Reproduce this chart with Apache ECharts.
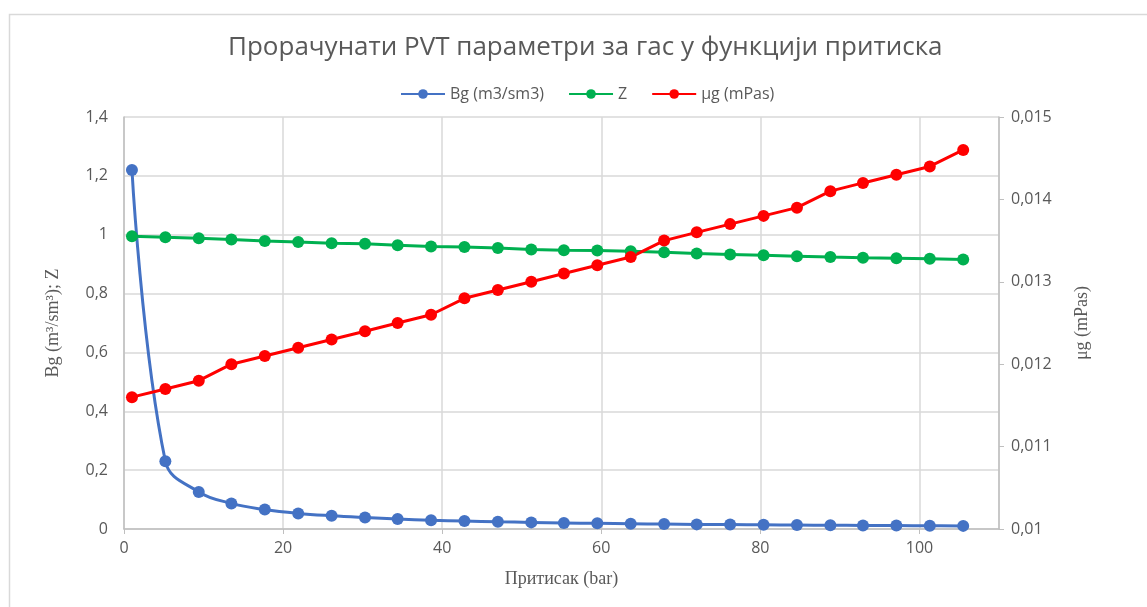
<!DOCTYPE html>
<html>
<head>
<meta charset="utf-8">
<script src="https://cdn.jsdelivr.net/npm/echarts@6/dist/echarts.min.js"></script>
<style>html,body{margin:0;padding:0;background:#fff}#c{width:1147px;height:607px}</style>
</head>
<body>
<div id="c"></div>
<script>
const pressure = [1.0, 5.2, 9.4, 13.5, 17.7, 21.9, 26.1, 30.3, 34.4, 38.6, 42.8, 47.0, 51.2, 55.3, 59.5, 63.7, 67.9, 72.0, 76.2, 80.4, 84.6, 88.8, 92.9, 97.1, 101.3, 105.5];
const bg = [1.22, 0.23, 0.126, 0.087, 0.066, 0.053, 0.045, 0.039, 0.034, 0.030, 0.027, 0.0245, 0.0225, 0.0207, 0.0192, 0.0179, 0.0168, 0.0157, 0.0149, 0.0141, 0.0133, 0.0127, 0.0121, 0.0116, 0.0111, 0.0106];
const z = [0.995, 0.991, 0.988, 0.984, 0.979, 0.975, 0.971, 0.969, 0.964, 0.960, 0.958, 0.955, 0.950, 0.947, 0.946, 0.944, 0.940, 0.936, 0.933, 0.930, 0.927, 0.924, 0.922, 0.920, 0.918, 0.916];
const mu = [0.01160, 0.01170, 0.01180, 0.01200, 0.01210, 0.01220, 0.01230, 0.01240, 0.01250, 0.01260, 0.01280, 0.01290, 0.01300, 0.01310, 0.01320, 0.01330, 0.01350, 0.01360, 0.01370, 0.01380, 0.01390, 0.01410, 0.01420, 0.01430, 0.01440, 0.01460];
const seriesNames = ['Bg (m3/sm3)', 'Z', 'μg (mPas)'];
const titleText = 'Прорачунати PVT параметри за гас у функцији притиска';
const xName = 'Притисак (bar)';
const yLeftName = 'Bg (m³/sm³); Z';
const yRightName = 'μg (mPas)';

const SANS = "'Open Sans', sans-serif";
const SERIF = "'Liberation Serif', 'DejaVu Serif', serif";
const TXT = '#595959';
const GRID = '#d9d9d9';
const AX = '#bfbfbf';
const comma = v => String(+(+v).toFixed(4)).replace('.', ',');

const pairs = arr => pressure.map((p, i) => [p, arr[i]]);

const chart = echarts.init(document.getElementById('c'), null, {renderer: 'canvas'});
chart.setOption({
  animation: false,
  backgroundColor: '#fff',
  graphic: [{
    type: 'rect', left: 7, top: 12, shape: {width: 1300, height: 800},
    style: {fill: 'none', stroke: '#d9d9d9', lineWidth: 1.5}, silent: true
  }],
  title: {
    text: titleText, left: 223, top: 30,
    textStyle: {fontFamily: SANS, fontWeight: 'normal', fontSize: 26, color: TXT}
  },
  legend: {
    top: 81, left: 395, itemWidth: 44, itemHeight: 12, itemGap: 24,
    textStyle: {fontFamily: SANS, fontSize: 16, color: TXT},
    data: seriesNames
  },
  grid: {left: 124, right: 148, top: 117, bottom: 78, containLabel: false},
  xAxis: {
    type: 'value', min: 0, max: 110, interval: 20,
    name: xName, nameLocation: 'middle', nameGap: 41,
    nameTextStyle: {fontFamily: SERIF, fontSize: 18, color: TXT},
    axisLine: {show: true, lineStyle: {color: AX, width: 1.5}},
    axisTick: {show: true, length: 5, lineStyle: {color: AX}},
    axisLabel: {fontFamily: SANS, fontSize: 16, color: TXT, margin: 11, showMaxLabel: false},
    splitLine: {show: true, lineStyle: {color: GRID, width: 1.5}}
  },
  yAxis: [{
    type: 'value', min: 0, max: 1.4, interval: 0.2, position: 'left',
    name: yLeftName, nameLocation: 'middle', nameGap: 62, nameRotate: 90,
    nameTextStyle: {fontFamily: SERIF, fontSize: 18, color: TXT},
    axisLine: {show: true, lineStyle: {color: AX, width: 1.5}},
    axisTick: {show: false},
    axisLabel: {fontFamily: SANS, fontSize: 16, color: TXT, margin: 16, formatter: comma},
    splitLine: {show: true, lineStyle: {color: GRID, width: 1.5}}
  }, {
    type: 'value', min: 0.010, max: 0.015, interval: 0.001, position: 'right',
    name: yRightName, nameLocation: 'middle', nameGap: 74, nameRotate: 90,
    nameTextStyle: {fontFamily: SERIF, fontSize: 18, color: TXT},
    axisLine: {show: true, lineStyle: {color: AX, width: 1.5}},
    axisTick: {show: true, length: 5, lineStyle: {color: AX}},
    axisLabel: {fontFamily: SANS, fontSize: 16, color: TXT, margin: 12, formatter: comma},
    splitLine: {show: false}
  }],
  series: [{
    name: seriesNames[0], type: 'line', yAxisIndex: 0, data: pairs(bg), smooth: 0.4,
    symbol: 'circle', symbolSize: 12,
    itemStyle: {color: '#4472C4'}, lineStyle: {color: '#4472C4', width: 3}
  }, {
    name: seriesNames[1], type: 'line', yAxisIndex: 0, data: pairs(z),
    symbol: 'circle', symbolSize: 12,
    itemStyle: {color: '#00B050'}, lineStyle: {color: '#00B050', width: 3}
  }, {
    name: seriesNames[2], type: 'line', yAxisIndex: 1, data: pairs(mu),
    symbol: 'circle', symbolSize: 12,
    itemStyle: {color: '#FF0000'}, lineStyle: {color: '#FF0000', width: 3}
  }]
});
</script>
</body>
</html>
